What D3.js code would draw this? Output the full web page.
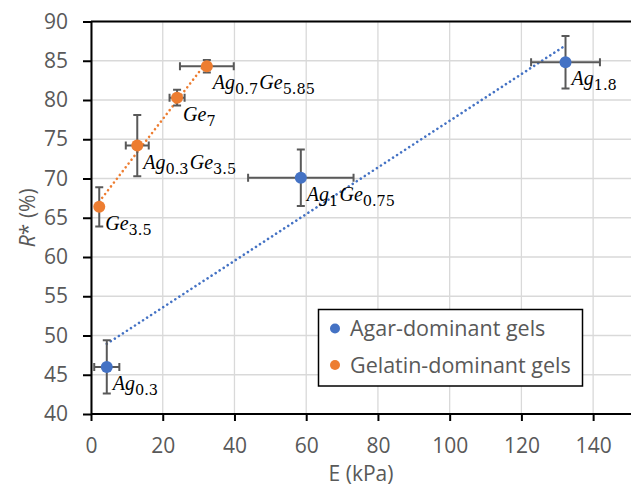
<!DOCTYPE html>
<html><head><meta charset="utf-8">
<script src="https://cdn.jsdelivr.net/npm/d3@7"></script>
<style>body{margin:0;background:#fff}svg{display:block}</style>
</head><body>
<svg id="c" width="631" height="492"></svg>
<script>
// ---- data ----
const agarE     = [4.4, 58.5, 132.3];
const agarR     = [46.0, 70.1, 84.8];
const agarEerr  = [3.5, 14.7, 9.6];
const agarRerr  = [3.4, 3.6, 3.35];
const agarLabels = [[["Ag","0.3"]], [["Ag","1"],["Ge","0.75"]], [["Ag","1.8"]]];

const gelE      = [2.3, 12.9, 24.0, 32.3];
const gelR      = [66.4, 74.2, 80.3, 84.3];
const gelEerr   = [0.8, 3.2, 2.1, 7.5];
const gelRerr   = [2.5, 3.9, 1.0, 0.8];
const gelLabels = [[["Ge","3.5"]], [["Ag","0.3"],["Ge","3.5"]], [["Ge","7"]], [["Ag","0.7"],["Ge","5.85"]]];

const xTicks = [0, 20, 40, 60, 80, 100, 120, 140];
const yTicks = [40, 45, 50, 55, 60, 65, 70, 75, 80, 85, 90];
const seriesNames = ["Agar-dominant gels", "Gelatin-dominant gels"];
const colors = ["#4472C4", "#ED7D31"];

// ---- scales ----
const svg = d3.select("#c");
const x = d3.scaleLinear().domain([0, 150]).range([91, 629]);
const y = d3.scaleLinear().domain([40, 90]).range([414, 21.5]);
const tickFont = "'Open Sans', sans-serif";
const grey = "#595959";

// gridlines
svg.append("g").selectAll("line.h").data(yTicks).join("line")
  .attr("x1", x(0)).attr("x2", 631).attr("y1", d => y(d)).attr("y2", d => y(d))
  .attr("stroke", "#D9D9D9").attr("stroke-width", 1.3);
svg.append("g").selectAll("line.v").data(xTicks).join("line")
  .attr("y1", y(40)).attr("y2", y(90)).attr("x1", d => x(d)).attr("x2", d => x(d))
  .attr("stroke", "#D9D9D9").attr("stroke-width", 1.3);

// top border
svg.append("line").attr("x1", x(0)).attr("x2", 631).attr("y1", y(90)).attr("y2", y(90))
  .attr("stroke", "#000").attr("stroke-width", 2);

// axes
const xAxis = d3.axisBottom(x).tickValues(xTicks).tickSize(7).tickPadding(17).tickSizeOuter(0);
const yAxis = d3.axisLeft(y).tickValues(yTicks).tickSize(8).tickPadding(15).tickSizeOuter(0);
const gx = svg.append("g").attr("transform", `translate(0,${y(40)})`).call(xAxis);
const gy = svg.append("g").attr("transform", `translate(${x(0)},0)`).call(yAxis);
gx.select(".domain").attr("d", `M${x(0)},0H631`);
[gx, gy].forEach(g => {
  g.select(".domain").attr("stroke", "#000").attr("stroke-width", 2);
  g.selectAll(".tick line").attr("stroke", "#000").attr("stroke-width", 2);
  g.selectAll(".tick text").attr("fill", grey).style("font-family", tickFont).style("font-size", "21px");
});

// axis titles
svg.append("text").attr("x", (x(0) + 631) / 2).attr("y", 481).attr("text-anchor", "middle")
  .attr("fill", grey).style("font-family", tickFont).style("font-size", "21px").text("E (kPa)");
const yt = svg.append("text").attr("transform", `translate(35,${(y(40) + y(90)) / 2}) rotate(-90)`)
  .attr("text-anchor", "middle").attr("fill", grey).style("font-family", tickFont).style("font-size", "21px");
yt.append("tspan").style("font-style", "italic").text("R");
yt.append("tspan").text("* (%)");

// series
const series = [
  {E: agarE, R: agarR, Ee: agarEerr, Re: agarRerr, L: agarLabels, c: colors[0]},
  {E: gelE, R: gelR, Ee: gelEerr, Re: gelRerr, L: gelLabels, c: colors[1]}
];

// trendlines (least squares)
series.forEach(s => {
  const n = s.E.length, mx = d3.mean(s.E), my = d3.mean(s.R);
  let sxy = 0, sxx = 0;
  for (let i = 0; i < n; i++) { sxy += (s.E[i] - mx) * (s.R[i] - my); sxx += (s.E[i] - mx) ** 2; }
  const b = sxy / sxx, a = my - b * mx;
  const [x0, x1] = d3.extent(s.E);
  svg.append("line").attr("x1", x(x0)).attr("y1", y(a + b * x0)).attr("x2", x(x1)).attr("y2", y(a + b * x1))
    .attr("stroke", s.c).attr("stroke-width", 2.6).attr("stroke-linecap", "round")
    .attr("stroke-dasharray", "0.01 4.8");
});

// error bars
const eb = "#595959", cap = 4;
series.forEach(s => {
  const g = svg.append("g").attr("stroke", eb).attr("stroke-width", 2).attr("fill", "none");
  s.E.forEach((e, i) => {
    const cx = x(e), cy = y(s.R[i]);
    const yl = y(s.R[i] - s.Re[i]), yh = y(s.R[i] + s.Re[i]);
    const xl = x(e - s.Ee[i]), xh = x(e + s.Ee[i]);
    g.append("path").attr("d",
      `M${cx},${yl}V${yh}M${cx - cap},${yl}H${cx + cap}M${cx - cap},${yh}H${cx + cap}` +
      `M${xl},${cy}H${xh}M${xl},${cy - cap}V${cy + cap}M${xh},${cy - cap}V${cy + cap}`);
  });
});

// markers
series.forEach(s => {
  svg.append("g").selectAll("circle").data(s.E).join("circle")
    .attr("cx", d => x(d)).attr("cy", (d, i) => y(s.R[i])).attr("r", 6).attr("fill", s.c);
});

// data labels
series.forEach(s => {
  s.E.forEach((e, i) => {
    const t = svg.append("text").attr("x", x(e) + 6).attr("y", y(s.R[i]) + 23).attr("fill", "#000");
    s.L[i].forEach(([main, sub]) => {
      t.append("tspan").style("font-family", "'Liberation Serif', serif").style("font-style", "italic")
        .style("font-size", "20px").text(main);
      t.append("tspan").style("font-family", "'DejaVu Serif', serif").style("font-size", "14.5px")
        .attr("dy", 5).text(sub);
      t.append("tspan").style("font-size", "14px").attr("dy", -5).text("\u200A");
    });
  });
});

// legend
const lg = svg.append("g");
lg.append("rect").attr("x", 318.5).attr("y", 309.5).attr("width", 264).attr("height", 76.5)
  .attr("fill", "#fff").attr("stroke", "#000").attr("stroke-width", 1.5);
seriesNames.forEach((nm, i) => {
  const cy = 328.5 + i * 36.5;
  lg.append("circle").attr("cx", 335).attr("cy", cy).attr("r", 5).attr("fill", colors[i]);
  lg.append("text").attr("x", 350).attr("y", cy + 7.5).attr("fill", grey)
    .style("font-family", tickFont).style("font-size", "21.5px").text(nm);
});
</script>
</body></html>
